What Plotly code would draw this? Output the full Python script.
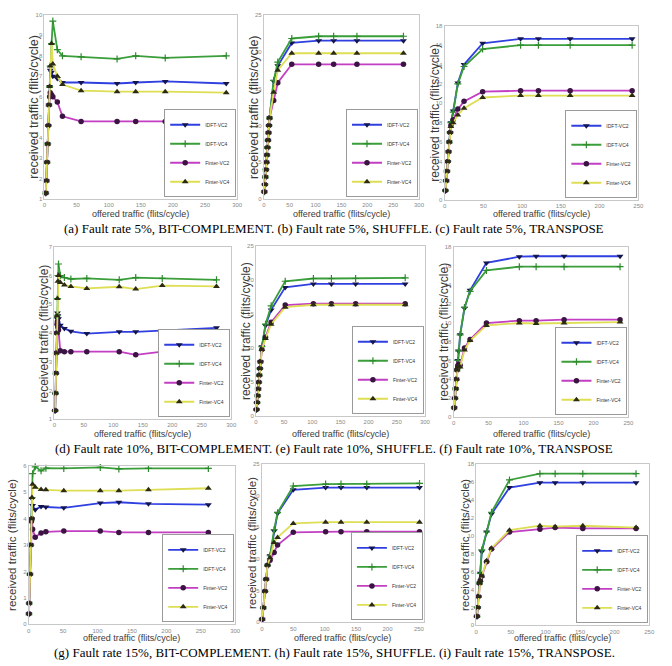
import plotly.graph_objects as go

W, H = 672, 666
series_names = ["IDFT-VC2", "IDFT-VC4", "Finter-VC2", "Finter-VC4"]

# (a) Fault rate 5%, BIT-COMPLEMENT
a_x = [2, 3, 4, 5, 6, 7, 8, 9, 11, 13, 20, 28, 57, 113, 142, 188, 283]
a_idft_vc2 = [1.3, 1.9, 2.8, 3.7, 4.6, 5.6, 6.5, 7.3, 7.2, 7.0, 6.9, 6.7, 6.7, 6.65, 6.7, 6.75, 6.65]
a_idft_vc4 = [1.3, 1.9, 2.8, 3.7, 4.6, 5.6, 6.5, 7.5, 8.6, 9.7, 8.3, 8.0, 7.95, 7.85, 8.0, 7.9, 8.0]
a_finter_vc2 = [1.3, 1.9, 2.8, 3.7, 4.6, 5.6, 6.0, 6.2, 6.1, 6.0, 5.75, 5.05, 4.8, 4.8, 4.8, 4.8, 4.8]
a_finter_vc4 = [1.3, 1.9, 2.8, 3.7, 4.6, 5.6, 6.5, 7.5, 8.6, 7.6, 7.0, 6.6, 6.3, 6.25, 6.25, 6.25, 6.2]

# (b) Fault rate 5%, SHUFFLE
b_x = [1, 2, 3, 4, 5, 6, 7, 8, 9, 10, 11, 19, 27, 54, 106, 135, 180, 270]
b_idft_vc2 = [1, 2, 3, 4, 5, 6, 7, 8, 9, 10, 11, 16.0, 18.1, 21.2, 21.5, 21.5, 21.5, 21.5]
b_idft_vc4 = [1, 2, 3, 4, 5, 6, 7, 8, 9, 10, 11, 16.1, 18.6, 21.8, 22.1, 22.1, 22.1, 22.1]
b_finter_vc2 = [1, 2, 3, 4, 5, 6, 7, 8, 9, 10, 11, 13.4, 15.8, 18.3, 18.3, 18.3, 18.3, 18.3]
b_finter_vc4 = [1, 2, 3, 4, 5, 6, 7, 8, 9, 10, 11, 14.5, 17.5, 19.8, 19.8, 19.8, 19.8, 19.8]

# (c) Fault rate 5%, TRANSPOSE
c_x = [1, 2, 3, 4, 5, 6, 7, 8, 11, 17, 25, 49, 98, 121, 162, 242]
c_idft_vc2 = [1, 2, 3, 4, 5, 6, 7, 8, 9.2, 12.1, 14.0, 16.2, 16.65, 16.65, 16.65, 16.65]
c_idft_vc4 = [1, 2, 3, 4, 5, 6, 7, 8, 9.1, 12.0, 13.8, 15.6, 16.0, 16.0, 16.0, 16.0]
c_finter_vc2 = [1, 2, 3, 4, 5, 6, 7, 7.7, 8.3, 9.4, 10.2, 11.2, 11.3, 11.3, 11.3, 11.3]
c_finter_vc4 = [1, 2, 3, 4, 5, 6, 7, 7.6, 8.0, 8.8, 9.5, 10.6, 10.8, 10.8, 10.8, 10.8]

# (d) Fault rate 10%, BIT-COMPLEMENT
d_x = [1.3, 1.9, 2.6, 3.3, 4, 4.6, 5.2, 6, 7, 10, 17, 28, 55, 110, 138, 183, 275]
d_idft_vc2 = [1.3, 1.9, 2.6, 3.3, 4, 4.5, 4.7, 4.6, 4.5, 4.27, 4.16, 4.06, 3.98, 4.04, 4.04, 4.09, 4.18]
d_idft_vc4 = [1.3, 1.9, 2.6, 3.3, 4, 4.6, 5.2, 6.0, 6.4, 6.0, 5.93, 5.88, 5.9, 5.85, 5.93, 5.9, 5.85]
d_finter_vc2 = [1.3, 1.9, 2.6, 3.3, 4, 4.3, 4.4, 4.2, 4.1, 3.38, 3.35, 3.35, 3.35, 3.35, 3.24, 3.35, 3.35]
d_finter_vc4 = [1.3, 1.9, 2.6, 3.3, 4, 4.6, 5.2, 5.8, 6.0, 5.76, 5.67, 5.62, 5.55, 5.61, 5.53, 5.65, 5.62]

# (e) Fault rate 10%, SHUFFLE
e_x = [1, 2, 3, 4, 5, 6, 7, 8, 10.5, 17, 27, 52, 102, 134, 177, 265]
e_idft_vc2 = [1, 2, 3, 4, 5, 6, 7, 8, 10.2, 13.3, 15.6, 18.9, 19.4, 19.4, 19.4, 19.4]
e_idft_vc4 = [1, 2, 3, 4, 5, 6, 7, 8, 10.2, 13.5, 16.2, 19.8, 20.2, 20.2, 20.2, 20.3]
e_finter_vc2 = [1, 2, 3, 4, 5, 6, 7, 8, 9.8, 11.6, 13.8, 16.3, 16.5, 16.5, 16.5, 16.5]
e_finter_vc4 = [1, 2, 3, 4, 5, 6, 7, 8, 9.8, 11.4, 13.5, 16.0, 16.35, 16.35, 16.35, 16.35]

# (f) Fault rate 10%, TRANSPOSE
f_x = [1, 2, 3, 4, 5, 6, 7, 9.4, 15.6, 23.6, 47, 94, 118, 158, 238]
f_idft_vc2 = [1, 2, 3, 4, 5, 6, 7, 8.7, 11.5, 13.4, 16.3, 16.95, 17.0, 17.0, 17.0]
f_idft_vc4 = [1, 2, 3, 4, 5, 6, 7, 8.7, 11.6, 13.3, 15.5, 15.9, 15.9, 15.9, 15.9]
f_finter_vc2 = [1, 2, 3, 4, 5, 5.4, 5.6, 5.5, 7.3, 8.2, 9.95, 10.2, 10.2, 10.3, 10.3]
f_finter_vc4 = [1, 2, 3, 4, 5, 5.3, 5.4, 5.3, 7.1, 8.1, 9.7, 9.95, 9.9, 9.95, 10.05]

# (g) Fault rate 15%, BIT-COMPLEMENT
g_x = [0.4, 0.8, 1.9, 3.0, 4.0, 4.8, 5.7, 9.5, 18, 25, 51, 104, 131, 174, 261]
g_idft_vc2 = [0.4, 0.8, 1.9, 3.0, 4.0, 4.75, 4.5, 4.34, 4.46, 4.44, 4.41, 4.59, 4.62, 4.56, 4.53]
g_idft_vc4 = [0.4, 0.8, 1.9, 3.0, 4.0, 4.8, 5.7, 5.96, 5.81, 5.91, 5.9, 5.94, 5.88, 5.9, 5.9]
g_finter_vc2 = [0.4, 0.8, 1.9, 3.0, 3.9, 4.0, 3.6, 3.3, 3.46, 3.5, 3.53, 3.53, 3.48, 3.48, 3.48]
g_finter_vc4 = [0.4, 0.8, 1.9, 3.0, 4.0, 4.8, 5.3, 5.19, 5.1, 5.09, 5.06, 5.06, 5.06, 5.09, 5.15]

# (h) Fault rate 15%, SHUFFLE
h_x = [0.5, 2.3, 4.9, 6.8, 9, 13, 19.5, 25, 50, 101.5, 126, 167, 251]
h_idft_vc2 = [0.5, 2.3, 4.9, 6.8, 9.0, 10.5, 14.4, 17.2, 20.9, 21.25, 21.25, 21.25, 21.25]
h_idft_vc4 = [0.5, 2.3, 4.9, 6.8, 9.0, 10.5, 14.6, 17.3, 21.5, 21.8, 21.8, 21.8, 21.9]
h_finter_vc2 = [0.5, 2.3, 4.9, 6.8, 9.0, 9.8, 11.0, 12.2, 14.2, 14.3, 14.3, 14.3, 14.3]
h_finter_vc4 = [0.5, 2.3, 4.9, 6.8, 9.0, 10.2, 12.6, 13.4, 15.6, 15.8, 15.8, 15.8, 15.8]

# (i) Fault rate 15%, TRANSPOSE
i_x = [1, 2, 3.2, 4.7, 5.8, 8, 15, 22, 48, 92, 114, 154, 231]
i_idft_vc2 = [1, 2, 3.2, 4.7, 5.8, 8.2, 10.4, 12.4, 15.35, 15.9, 15.9, 15.9, 15.9]
i_idft_vc4 = [1, 2, 3.2, 4.7, 5.8, 8.4, 10.4, 12.6, 16.2, 16.9, 16.9, 16.9, 16.9]
i_finter_vc2 = [1, 2, 3.2, 4.7, 5.0, 5.5, 7.1, 8.5, 10.4, 10.7, 10.9, 10.8, 10.8]
i_finter_vc4 = [1, 2, 3.2, 4.7, 5.0, 5.5, 7.2, 8.6, 10.6, 11.1, 11.0, 11.1, 10.9]

captions = [
    "(a) Fault rate 5%, BIT-COMPLEMENT. (b) Fault rate 5%, SHUFFLE. (c) Fault rate 5%, TRANSPOSE",
    "(d) Fault rate 10%, BIT-COMPLEMENT. (e) Fault rate 10%, SHUFFLE. (f) Fault rate 10%, TRANSPOSE",
    "(g) Fault rate 15%, BIT-COMPLEMENT. (h) Fault rate 15%, SHUFFLE. (i) Fault rate 15%, TRANSPOSE.",
]
caption_y = [228, 450, 655]
y_title = "received traffic (flits/cycle)"
x_title = "offered traffic (flits/cycle)"

panels = [
    dict(x=a_x, ys=[a_idft_vc2, a_idft_vc4, a_finter_vc2, a_finter_vc4], box=(43, 238, 12, 198),
         xr=[0, 300], xd=50, yr=[1, 10], yd=1, yt=32, xt=213, fs=12.5),
    dict(x=b_x, ys=[b_idft_vc2, b_idft_vc4, b_finter_vc2, b_finter_vc4], box=(265, 422, 12, 198),
         xr=[0, 300], xd=50, yr=[0, 25], yd=5, yt=255, xt=213, fs=12.5),
    dict(x=c_x, ys=[c_idft_vc2, c_idft_vc4, c_finter_vc2, c_finter_vc4], box=(448, 644, 23, 199),
         xr=[0, 250], xd=50, yr=[0, 18], yd=2, yt=438, xt=213, fs=12.0),
    dict(x=d_x, ys=[d_idft_vc2, d_idft_vc4, d_finter_vc2, d_finter_vc4], box=(53, 232, 246, 420),
         xr=[0, 300], xd=50, yr=[1, 7], yd=1, yt=43, xt=435, fs=12.0),
    dict(x=e_x, ys=[e_idft_vc2, e_idft_vc4, e_finter_vc2, e_finter_vc4], box=(257, 428, 245, 417),
         xr=[0, 300], xd=50, yr=[0, 25], yd=5, yt=247, xt=435, fs=12.0),
    dict(x=f_x, ys=[f_idft_vc2, f_idft_vc4, f_finter_vc2, f_finter_vc4], box=(457, 634, 246, 418),
         xr=[0, 250], xd=50, yr=[0, 18], yd=2, yt=447, xt=435, fs=12.0),
    dict(x=g_x, ys=[g_idft_vc2, g_idft_vc4, g_finter_vc2, g_finter_vc4], box=(27, 236, 467, 627),
         xr=[0, 300], xd=50, yr=[0, 6], yd=1, yt=10, xt=641, fs=11.5),
    dict(x=h_x, ys=[h_idft_vc2, h_idft_vc4, h_finter_vc2, h_finter_vc4], box=(263, 427, 465, 625),
         xr=[0, 258], xd=50, yr=[0, 25], yd=5, yt=253, xt=641, fs=11.5),
    dict(x=i_x, ys=[i_idft_vc2, i_idft_vc4, i_finter_vc2, i_finter_vc4], box=(480, 655, 465, 628),
         xr=[0, 250], xd=50, yr=[0, 18], yd=2, yt=468, xt=641, fs=11.5),
]

line_colors = ["#2f3fe0", "#3a9e3a", "#c23ec2", "#dede55"]
markers = [
    dict(symbol="triangle-down", size=6, color="#14144f"),
    dict(symbol="cross-thin", size=5, color="#2d8a2d", line=dict(color="#2d8a2d", width=1.2)),
    dict(symbol="circle", size=5.5, color="#3b1443"),
    dict(symbol="triangle-up", size=6, color="#2b2b12"),
]

fig = go.Figure()
layout = dict(
    width=W, height=H, margin=dict(l=0, r=0, t=0, b=0),
    paper_bgcolor="white", plot_bgcolor="white", showlegend=True,
    font=dict(family="Liberation Sans, Arial, sans-serif", color="#333"),
)
annotations = []

for i, p in enumerate(panels, start=1):
    sx = "" if i == 1 else str(i)
    L, R, T, B = p["box"]
    for s, name in enumerate(series_names):
        fig.add_trace(go.Scatter(
            x=p["x"], y=p["ys"][s], mode="lines+markers", name=name,
            line=dict(color=line_colors[s], width=1.8), marker=markers[s],
            xaxis="x" + sx, yaxis="y" + sx, legend="legend" + sx, cliponaxis=False,
        ))
    axcommon = dict(showgrid=False, zeroline=False, showline=True, mirror=True,
                    linecolor="#c8c8c8", linewidth=1, ticks="",
                    tickfont=dict(size=6, color="#8a8a8a"))
    layout["xaxis" + sx] = dict(domain=[L / W, R / W], range=p["xr"], dtick=p["xd"], tick0=0,
                                anchor="y" + sx, **axcommon)
    layout["yaxis" + sx] = dict(domain=[1 - B / H, 1 - T / H], range=p["yr"], dtick=p["yd"], tick0=0,
                                anchor="x" + sx, **axcommon)
    layout["legend" + sx] = dict(
        x=(R - 1) / W, y=1 - (B - 2) / H, xanchor="right", yanchor="bottom",
        bgcolor="white", bordercolor="#9a9a9a", borderwidth=1,
        font=dict(size=5, color="#333"), itemwidth=30, tracegroupgap=0,
    )
    annotations.append(dict(
        text=y_title, x=p["yt"] / W, y=1 - (T + B) / 2 / H, xref="paper", yref="paper",
        textangle=-90, showarrow=False, xanchor="center", yanchor="middle",
        font=dict(size=p["fs"], color="#3a3a3a", family="Liberation Sans, Arial, sans-serif"),
    ))
    annotations.append(dict(
        text=x_title, x=(L + R) / 2 / W, y=1 - p["xt"] / H, xref="paper", yref="paper",
        showarrow=False, xanchor="center", yanchor="middle",
        font=dict(size=9, color="#3a3a3a", family="Liberation Sans, Arial, sans-serif"),
    ))

for cap, cy in zip(captions, caption_y):
    annotations.append(dict(
        text=cap, x=0.5, y=1 - cy / H, xref="paper", yref="paper", showarrow=False,
        xanchor="center", yanchor="middle",
        font=dict(size=13, color="black", family="Liberation Serif, Times New Roman, serif"),
    ))

layout["annotations"] = annotations
fig.update_layout(**layout)
fig.write_html("out.html", config={"displayModeBar": False},
               post_script="document.body.style.margin='0px';")
